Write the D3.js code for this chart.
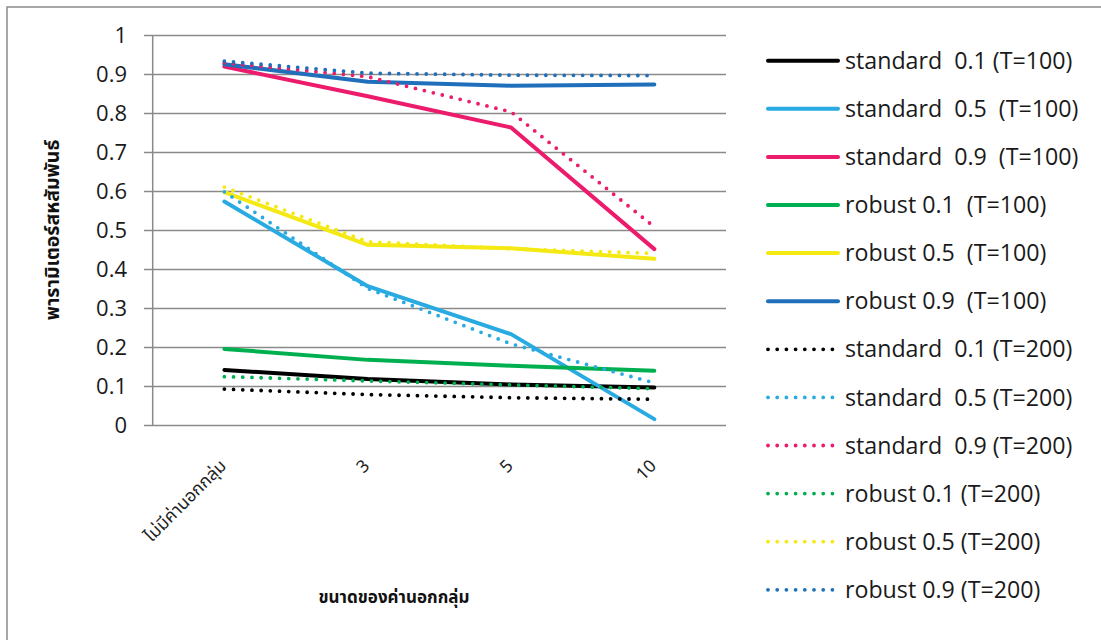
<!DOCTYPE html>
<html>
<head>
<meta charset="utf-8">
<script src="https://cdn.jsdelivr.net/npm/d3@7"></script>
<style>
  html, body { margin: 0; padding: 0; background: #fff; }
  svg { display: block; }
  text { white-space: pre; }
</style>
</head>
<body>
<svg id="chart" width="1101" height="640"></svg>
<script>
// Categories on the x axis (size of outliers)
const categories = ["ไม่มีค่านอกกลุ่ม", "3", "5", "10"];
const yTicks = [0, 0.1, 0.2, 0.3, 0.4, 0.5, 0.6, 0.7, 0.8, 0.9, 1];

// Series values, one array per estimator / sample size
const standard01_T100 = [0.141, 0.118, 0.104, 0.096];
const standard05_T100 = [0.573, 0.356, 0.233, 0.015];
const standard09_T100 = [0.919, 0.843, 0.763, 0.451];
const robust01_T100   = [0.195, 0.167, 0.152, 0.139];
const robust05_T100   = [0.597, 0.462, 0.453, 0.426];
const robust09_T100   = [0.925, 0.880, 0.870, 0.873];
const standard01_T200 = [0.092, 0.078, 0.070, 0.066];
const standard05_T200 = [0.598, 0.350, 0.208, 0.108];
const standard09_T200 = [0.929, 0.893, 0.803, 0.508];
const robust01_T200   = [0.124, 0.113, 0.103, 0.093];
const robust05_T200   = [0.610, 0.470, 0.452, 0.440];
const robust09_T200   = [0.933, 0.902, 0.897, 0.896];

const seriesNames = [
  "standard  0.1 (T=100)", "standard  0.5  (T=100)", "standard  0.9  (T=100)",
  "robust 0.1  (T=100)", "robust 0.5  (T=100)", "robust 0.9  (T=100)",
  "standard  0.1 (T=200)", "standard  0.5 (T=200)", "standard  0.9 (T=200)",
  "robust 0.1 (T=200)", "robust 0.5 (T=200)", "robust 0.9 (T=200)"
];
const seriesValues = [
  standard01_T100, standard05_T100, standard09_T100,
  robust01_T100, robust05_T100, robust09_T100,
  standard01_T200, standard05_T200, standard09_T200,
  robust01_T200, robust05_T200, robust09_T200
];

// Styling
const palette = ["#000000", "#29abe2", "#ec1b6b", "#00b050", "#f5e914", "#1f6fba"];
const gridColor = "#8a8a8a";
const uiFont = "'Open Sans', 'Noto Sans', sans-serif";
const thaiFont = "'Noto Sans Thai', 'Noto Sans', 'DejaVu Sans', sans-serif";

const svg = d3.select("#chart");

// Outer chart frame
svg.append("rect")
  .attr("x", 7).attr("y", 7).attr("width", 1200).attr("height", 700)
  .attr("fill", "none").attr("stroke", gridColor).attr("stroke-width", 1.5);

const plot = { left: 152.7, right: 726, top: 35, bottom: 425 };

const x = d3.scaleBand().domain(categories).range([plot.left, plot.right]);
const xc = c => x(c) + x.bandwidth() / 2;
const y = d3.scaleLinear().domain([0, 1]).range([plot.bottom, plot.top]);

// Gridlines + tick marks + value labels
const tickLen = 8.7;
const yAxis = svg.append("g")
  .attr("transform", `translate(${plot.left - tickLen},0)`)
  .call(d3.axisLeft(y)
    .tickValues(yTicks)
    .tickFormat(d3.format("~g"))
    .tickSize(-(plot.right - plot.left + tickLen))
    .tickPadding(17));
yAxis.select(".domain").remove();
yAxis.selectAll(".tick line").attr("stroke", gridColor).attr("stroke-width", 1.5);
yAxis.selectAll(".tick text")
  .attr("font-family", uiFont).attr("font-size", 22).attr("fill", "#1a1a1a");

// Vertical value axis
svg.append("line")
  .attr("x1", plot.left).attr("x2", plot.left)
  .attr("y1", plot.top).attr("y2", plot.bottom)
  .attr("stroke", gridColor).attr("stroke-width", 1.5);

// Category labels, rotated
svg.append("g").selectAll("text")
  .data(categories)
  .join("text")
  .attr("transform", d => `translate(${xc(d) + 3},467) rotate(-45)`)
  .attr("text-anchor", "end")
  .attr("font-family", thaiFont)
  .attr("font-size", 17.5)
  .attr("fill", "#222")
  .text(d => d);

// Axis titles
svg.append("text")
  .attr("x", 394).attr("y", 603)
  .attr("text-anchor", "middle")
  .attr("font-family", thaiFont).attr("font-weight", "bold").attr("font-size", 17)
  .attr("fill", "#111")
  .text("ขนาดของค่านอกกลุ่ม");

svg.append("text")
  .attr("transform", "translate(59,230) rotate(-90)")
  .attr("text-anchor", "middle")
  .attr("font-family", thaiFont).attr("font-weight", "bold").attr("font-size", 19.5)
  .attr("fill", "#111")
  .text("พารามิเตอร์สหสัมพันธ์");

// Series lines
const line = d3.line()
  .x((d, i) => xc(categories[i]))
  .y(d => y(d));

const styleLine = (sel, i) => {
  sel.attr("fill", "none")
    .attr("stroke", palette[i % 6])
    .attr("stroke-linecap", "round")
    .attr("stroke-linejoin", "round");
  if (i < 6) {
    sel.attr("stroke-width", 4);
  } else {
    sel.attr("stroke-width", 3.8).attr("stroke-dasharray", "0 9.2");
  }
};

const lines = svg.append("g");
seriesValues.forEach((vals, i) => {
  lines.append("path").datum(vals).attr("d", line).call(styleLine, i);
});

// Legend
const legend = svg.append("g");
const legTop = 60.7, legStep = 48.1;
seriesNames.forEach((name, i) => {
  const ly = legTop + i * legStep;
  legend.append("path")
    .attr("d", d3.line()([[768, ly], [838, ly]]))
    .call(styleLine, i);
  legend.append("text")
    .attr("x", 845).attr("y", ly)
    .attr("dy", "0.35em")
    .attr("font-family", uiFont).attr("font-size", 23.2)
    .attr("fill", "#1a1a1a")
    .text(name);
});
</script>
</body>
</html>
